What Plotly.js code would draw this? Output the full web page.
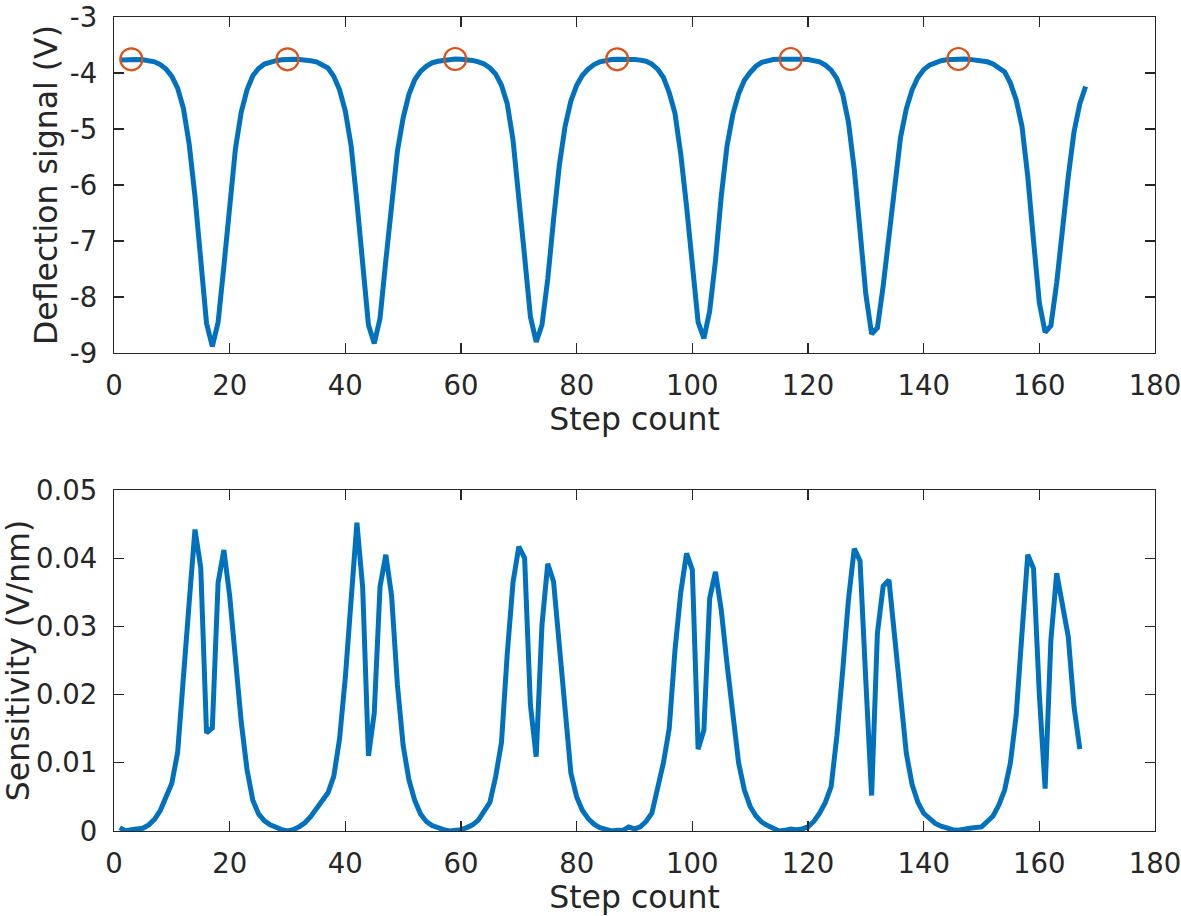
<!DOCTYPE html>
<html>
<head>
<meta charset="utf-8">
<script src="https://cdn.plot.ly/plotly-3.0.1.min.js"></script>
<style>html,body{margin:0;padding:0;background:#fff;}#chart{width:1181px;height:916px;}</style>
</head>
<body>
<div id="chart"></div>
<script>
// Deflection signal (V) for step counts 1..168
const deflection = [
  -3.77, -3.76, -3.755, -3.76, -3.765, -3.78, -3.80, -3.85, -3.93, -4.06,
  -4.27, -4.63, -5.27, -6.20, -7.40, -8.47, -8.88, -8.45, -7.45, -6.32,
  -5.35, -4.70, -4.30, -4.05, -3.92, -3.84, -3.80, -3.78, -3.765, -3.755,
  -3.755, -3.76, -3.765, -3.78, -3.80, -3.85, -3.91, -4.06, -4.30, -4.68,
  -5.30, -6.30, -7.50, -8.50, -8.83, -8.38, -7.35, -6.30, -5.40, -4.80,
  -4.38, -4.12, -3.97, -3.88, -3.82, -3.79, -3.77, -3.76, -3.75,
  -3.755, -3.76, -3.775, -3.80, -3.84, -3.91, -4.02, -4.22, -4.55, -5.20,
  -6.15, -7.28, -8.35, -8.80, -8.50, -7.68, -6.62, -5.65, -4.95, -4.50,
  -4.22, -4.04, -3.93, -3.85, -3.80, -3.77, -3.76, -3.755,
  -3.75, -3.755, -3.76, -3.77, -3.79, -3.84, -3.93, -4.08, -4.35, -4.72,
  -5.45, -6.38, -7.40, -8.45, -8.74, -8.25, -7.35, -6.20, -5.30, -4.74,
  -4.37, -4.13, -3.99, -3.88, -3.81, -3.78, -3.76, -3.755, -3.75, -3.75,
  -3.75, -3.755, -3.76, -3.775, -3.80, -3.86, -3.95, -4.10, -4.38, -4.88,
  -5.72, -6.82, -7.95, -8.66, -8.55, -7.80, -6.88, -5.92, -5.15, -4.64,
  -4.30, -4.08, -3.94, -3.86, -3.81, -3.78, -3.765, -3.755, -3.75,
  -3.752, -3.757, -3.765, -3.78, -3.80, -3.84, -3.91, -3.98, -4.18, -4.48,
  -4.95, -5.85, -7.00, -8.10, -8.63, -8.51, -7.75, -6.75, -5.85, -5.05,
  -4.55, -4.24
];

// Sensitivity (V/nm) for step counts 1..167
const sensitivity = [
  0.0005, 0.0000, 0.0002, 0.0003, 0.0004, 0.0009, 0.0017, 0.0030, 0.0048, 0.0070,
  0.0115, 0.0215, 0.0335, 0.0442, 0.0386, 0.0144, 0.0151, 0.0364, 0.0412, 0.0345,
  0.0250, 0.0160, 0.0090, 0.0045, 0.0025, 0.0015, 0.0009, 0.0005, 0.0002, 0.0000,
  0.0002, 0.0006, 0.0012, 0.0021, 0.0032, 0.0043, 0.0056, 0.0080, 0.0135, 0.0225,
  0.0350, 0.0452, 0.0357, 0.0110, 0.0173, 0.0358, 0.0405, 0.0345, 0.0215, 0.0125,
  0.0075, 0.0045, 0.0025, 0.0014, 0.0008, 0.0004, 0.0002, 0.0000,
  0.0001, 0.0002, 0.0005, 0.0009, 0.0016, 0.0028, 0.0042, 0.0080, 0.0130, 0.0260,
  0.0365, 0.0417, 0.0400, 0.0185, 0.0109, 0.0302, 0.0392, 0.0366, 0.0265, 0.0170,
  0.0085, 0.0050, 0.0030, 0.0018, 0.0010, 0.0005, 0.0002, 0.0000, 0.0001,
  0.0001, 0.0006, 0.0003, 0.0006, 0.0014, 0.0026, 0.0060, 0.0100, 0.0150, 0.0265,
  0.0350, 0.0407, 0.0383, 0.0120, 0.0148, 0.0341, 0.0380, 0.0324, 0.0245, 0.0170,
  0.0100, 0.0060, 0.0036, 0.0022, 0.0013, 0.0008, 0.0003, 0.0000, 0.0001, 0.0003,
  0.0002, 0.0003, 0.0006, 0.0014, 0.0026, 0.0042, 0.0065, 0.0140, 0.0235, 0.0340,
  0.0414, 0.0396, 0.0220, 0.0052, 0.0290, 0.0359, 0.0368, 0.0280, 0.0192, 0.0114,
  0.0068, 0.0042, 0.0026, 0.0018, 0.0011, 0.0007, 0.0004, 0.0002, 0.0001,
  0.0003, 0.0004, 0.0005, 0.0006, 0.0014, 0.0022, 0.0038, 0.0060, 0.0100, 0.0170,
  0.0290, 0.0405, 0.0385, 0.0200, 0.0062, 0.0280, 0.0378, 0.0332, 0.0285, 0.0182,
  0.0120
];

// Marked maxima of the deflection signal
const peakSteps = [3, 30, 59, 87, 117, 146];
const peakValues = [-3.755, -3.755, -3.75, -3.755, -3.75, -3.75];

// Tick labels
const xTickVals = [0, 20, 40, 60, 80, 100, 120, 140, 160, 180];
const xTickText = ["0", "20", "40", "60", "80", "100", "120", "140", "160", "180"];
const y1TickVals = [-9, -8, -7, -6, -5, -4, -3];
const y1TickText = ["-9", "-8", "-7", "-6", "-5", "-4", "-3"];
const y2TickVals = [0, 0.01, 0.02, 0.03, 0.04, 0.05];
const y2TickText = ["0", "0.01", "0.02", "0.03", "0.04", "0.05"];

const deflSteps = deflection.map((_, i) => i + 1);
const sensSteps = sensitivity.map((_, i) => i + 1);

const FONT = "DejaVu Sans";
const INK = "#262626";
const BLUE = "#0072BD";
const ORANGE = "#D95319";

const traces = [
  {x: deflSteps, y: deflection, xaxis: "x", yaxis: "y", type: "scatter", mode: "lines",
   line: {color: BLUE, width: 5}, hoverinfo: "skip"},
  {x: peakSteps, y: peakValues, xaxis: "x", yaxis: "y", type: "scatter", mode: "markers",
   marker: {symbol: "circle-open", size: 22, color: ORANGE, line: {color: ORANGE, width: 2.2}},
   cliponaxis: false, hoverinfo: "skip"},
  {x: sensSteps, y: sensitivity, xaxis: "x2", yaxis: "y2", type: "scatter", mode: "lines",
   line: {color: BLUE, width: 5}, hoverinfo: "skip"}
];

function axisBase() {
  return {
    showline: true, linecolor: INK, linewidth: 1.3, mirror: "ticks",
    ticks: "inside", ticklen: 10, tickwidth: 1.3, tickcolor: INK,
    showgrid: false, zeroline: false,
    ticklabeloverflow: "allow",
    tickfont: {family: FONT, size: 27.5, color: INK}
  };
}

const TITLE_FONT = {family: FONT, size: 31.5, color: INK};

const xa = Object.assign(axisBase(), {
  domain: [0, 1], anchor: "y", range: [0, 180],
  tickmode: "array", tickvals: xTickVals, ticktext: xTickText,
  ticklabelstandoff: 8,
  title: {text: "Step count", font: TITLE_FONT, standoff: 5}
});
const xa2 = Object.assign(axisBase(), {
  domain: [0, 1], anchor: "y2", range: [0, 180],
  tickmode: "array", tickvals: xTickVals, ticktext: xTickText,
  ticklabelstandoff: 8,
  title: {text: "Step count", font: TITLE_FONT, standoff: 5}
});
const ya = Object.assign(axisBase(), {
  domain: [0.5872, 1], anchor: "x", range: [-9, -3],
  tickmode: "array", tickvals: y1TickVals, ticktext: y1TickText,
  ticklabelstandoff: 10,
  title: {text: "Deflection signal (V)", font: TITLE_FONT, standoff: 2}
});
const ya2 = Object.assign(axisBase(), {
  domain: [0, 0.4189], anchor: "x2", range: [0, 0.05],
  tickmode: "array", tickvals: y2TickVals, ticktext: y2TickText,
  ticklabelstandoff: 10,
  title: {text: "Sensitivity (V/nm)", font: TITLE_FONT, standoff: 2}
});

const layout = {
  width: 1181, height: 916,
  margin: {l: 114, r: 26, t: 17, b: 85},
  paper_bgcolor: "#ffffff", plot_bgcolor: "#ffffff",
  showlegend: false,
  font: {family: FONT, color: INK},
  xaxis: xa, yaxis: ya, xaxis2: xa2, yaxis2: ya2
};

Plotly.newPlot("chart", traces, layout, {staticPlot: true, displayModeBar: false});
</script>
</body>
</html>
